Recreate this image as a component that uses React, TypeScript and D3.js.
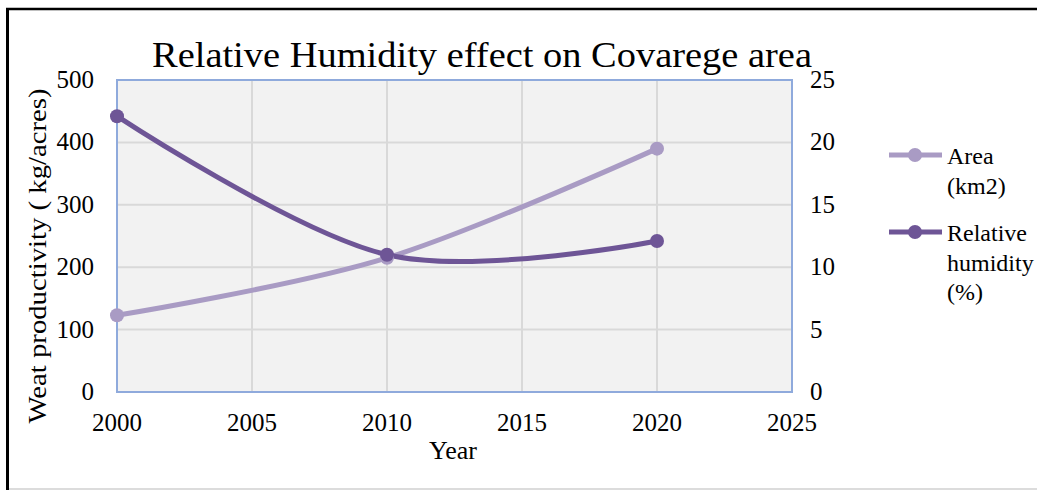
import React from "react";
import * as d3 from "d3";

const years = [2000, 2010, 2020];
const areaValues = [123, 215, 390];
const humidityValues = [22.1, 11.0, 12.1];
const leftTicks = [0, 100, 200, 300, 400, 500];
const rightTicks = [0, 5, 10, 15, 20, 25];
const xTicks = [2000, 2005, 2010, 2015, 2020, 2025];

const W = 1037;
const H = 490;
const FONT = "'Liberation Serif', 'DejaVu Serif', serif";
const AREA_COLOR = "#a99bc4";
const HUM_COLOR = "#6e5596";

export default function App() {
  const x = d3.scaleLinear().domain([2000, 2025]).range([117, 792]);
  const yL = d3.scaleLinear().domain([0, 500]).range([392, 80]);
  const yR = d3.scaleLinear().domain([0, 25]).range([392, 80]);

  const curve = d3.curveCardinal.tension(0);
  const areaLine = d3
    .line<number>()
    .x((_, i) => x(years[i]))
    .y((d) => yL(d))
    .curve(curve);
  const humLine = d3
    .line<number>()
    .x((_, i) => x(years[i]))
    .y((d) => yR(d))
    .curve(curve);

  const [x0, x1] = x.range();
  const [yb, yt] = yL.range();

  return (
    <svg
      width={W}
      height={H}
      style={{ position: "absolute", left: 0, top: 0, background: "#fff" }}
      fontFamily={FONT}
    >
      {/* outer frame */}
      <line x1={7.5} y1={8} x2={7.5} y2={490} stroke="#000" strokeWidth={3} />
      <line x1={6} y1={9} x2={W} y2={9} stroke="#000" strokeWidth={2.5} />
      <line x1={9} y1={489} x2={W} y2={489} stroke="#d0d0d0" strokeWidth={1.5} />

      {/* title */}
      <text
        x={482}
        y={67}
        textAnchor="middle"
        fontSize={36}
        fill="#000"
        textLength={660}
        lengthAdjust="spacingAndGlyphs"
      >
        Relative Humidity effect on Covarege area
      </text>

      {/* plot background */}
      <rect x={x0} y={yt} width={x1 - x0} height={yb - yt} fill="#f2f2f2" />

      {/* gridlines */}
      {leftTicks.slice(1).map((t) => (
        <line key={"h" + t} x1={x0} x2={x1} y1={yL(t)} y2={yL(t)} stroke="#d9d9d9" strokeWidth={2} />
      ))}
      {xTicks.slice(1).map((t) => (
        <line key={"v" + t} x1={x(t)} x2={x(t)} y1={yt} y2={yb} stroke="#d9d9d9" strokeWidth={2} />
      ))}

      {/* plot border */}
      <rect x={x0} y={yt} width={x1 - x0} height={yb - yt} fill="none" stroke="#8faadc" strokeWidth={2} />

      {/* left ticks */}
      {leftTicks.map((t) => (
        <text key={"l" + t} x={94} y={yL(t) + 8} textAnchor="end" fontSize={25} fill="#000">
          {t}
        </text>
      ))}
      {/* right ticks */}
      {rightTicks.map((t) => (
        <text key={"r" + t} x={810} y={yR(t) + 8} textAnchor="start" fontSize={25} fill="#000">
          {t}
        </text>
      ))}
      {/* x ticks */}
      {xTicks.map((t) => (
        <text key={"x" + t} x={x(t)} y={431} textAnchor="middle" fontSize={25} fill="#000">
          {t}
        </text>
      ))}

      {/* axis titles */}
      <text x={453} y={459} textAnchor="middle" fontSize={26} fill="#000">
        Year
      </text>
      <text
        transform="translate(46,256) rotate(-90)"
        textAnchor="middle"
        fontSize={26}
        fill="#000"
        textLength={335}
        lengthAdjust="spacingAndGlyphs"
      >
        Weat productivity ( kg/acres)
      </text>

      {/* series */}
      <path d={areaLine(areaValues) || ""} fill="none" stroke={AREA_COLOR} strokeWidth={5} strokeLinecap="round" />
      <path d={humLine(humidityValues) || ""} fill="none" stroke={HUM_COLOR} strokeWidth={5} strokeLinecap="round" />
      {areaValues.map((v, i) => (
        <circle key={"am" + i} cx={x(years[i])} cy={yL(v)} r={7} fill={AREA_COLOR} />
      ))}
      {humidityValues.map((v, i) => (
        <circle key={"hm" + i} cx={x(years[i])} cy={yR(v)} r={7} fill={HUM_COLOR} />
      ))}

      {/* legend */}
      <line x1={889} x2={942} y1={155} y2={155} stroke={AREA_COLOR} strokeWidth={5} />
      <circle cx={915} cy={155} r={7} fill={AREA_COLOR} />
      <text x={947} y={164} fontSize={24} fill="#000">Area</text>
      <text x={947} y={194} fontSize={24} fill="#000">(km2)</text>

      <line x1={889} x2={942} y1={232} y2={232} stroke={HUM_COLOR} strokeWidth={5} />
      <circle cx={915} cy={232} r={7} fill={HUM_COLOR} />
      <text x={947} y={241} fontSize={24} fill="#000">Relative</text>
      <text x={947} y={271} fontSize={24} fill="#000">humidity</text>
      <text x={947} y={300} fontSize={24} fill="#000">(%)</text>
    </svg>
  );
}
